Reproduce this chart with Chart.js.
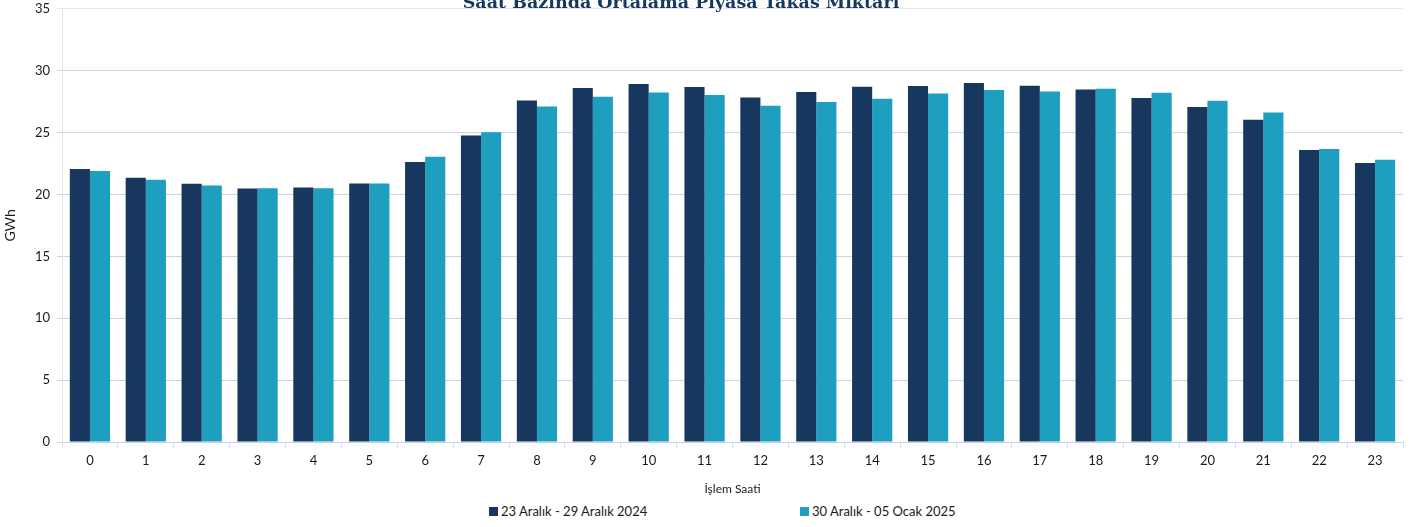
<!DOCTYPE html>
<html>
<head>
<meta charset="utf-8">
<script src="https://cdn.jsdelivr.net/npm/chart.js@4/dist/chart.umd.min.js"></script>
<style>
    body { margin: 0; background: #fff; overflow: hidden; }
    #wrap { position: relative; width: 1418px; height: 527px; overflow: hidden; }
    #chart { display: block; margin-top: -6px; }
    #legend {
        position: absolute; top: 503px; left: 0; width: 1418px;
        font: 13px Lato, "Open Sans", sans-serif; color: #1a1a1a;
    }
    .item { position: absolute; top: 0; white-space: nowrap; }
    .box { display: inline-block; width: 9px; height: 9px; margin-right: 3px; vertical-align: 0px; }
</style>
</head>
<body>
<div id="wrap">
    <canvas id="chart" width="1418" height="505"></canvas>
    <div id="legend"></div>
</div>
<script>
const hours = ['0','1','2','3','4','5','6','7','8','9','10','11','12','13','14','15','16','17','18','19','20','21','22','23'];

const week1 = [22.05, 21.35, 20.87, 20.49, 20.57, 20.89, 22.62, 24.76, 27.59, 28.60, 28.92, 28.68,
               27.84, 28.27, 28.70, 28.76, 29.00, 28.78, 28.49, 27.79, 27.06, 26.03, 23.60, 22.55];
const week2 = [21.89, 21.19, 20.73, 20.51, 20.51, 20.89, 23.05, 25.03, 27.11, 27.89, 28.24, 28.03,
               27.16, 27.46, 27.73, 28.16, 28.43, 28.32, 28.54, 28.22, 27.57, 26.62, 23.68, 22.80];

const seriesNames = ['23 Aralık - 29 Aralık 2024', '30 Aralık - 05 Ocak 2025'];
const seriesColors = ['#17375e', '#1f9fc0'];

const titleText = 'Saat Bazında Ortalama Piyasa Takas Miktarı';

// title sits partly above the visible top, like the original
const titlePlugin = {
    id: 'cutTitle',
    afterDraw(chart) {
        const ctx = chart.ctx;
        ctx.save();
        ctx.font = 'bold 17.5px "DejaVu Serif", "Liberation Serif", serif';
        ctx.fillStyle = '#17375e';
        ctx.textAlign = 'center';
        ctx.textBaseline = 'alphabetic';
        ctx.fillText(titleText, 681, 14);
        ctx.restore();
    }
};

const font = { family: 'Lato, "Open Sans", sans-serif', size: 13 };

new Chart(document.getElementById('chart'), {
    type: 'bar',
    data: {
        labels: hours,
        datasets: [
            { label: seriesNames[0], data: week1, backgroundColor: seriesColors[0] },
            { label: seriesNames[1], data: week2, backgroundColor: seriesColors[1] }
        ]
    },
    options: {
        responsive: false,
        animation: false,
        layout: { padding: { top: 0, right: 15, bottom: 3, left: 0 } },
        datasets: { bar: { categoryPercentage: 0.72, barPercentage: 1.0 } },
        plugins: {
            legend: { display: false },
            title: { display: false },
            tooltip: { enabled: false }
        },
        scales: {
            x: {
                grid: {
                    offset: true,
                    drawOnChartArea: false,
                    drawTicks: true,
                    tickLength: 6,
                    color: '#d9e1ec'
                },
                border: { color: '#c5d3e8' },
                ticks: { color: '#1a1a1a', font: font, padding: 5 },
                title: {
                    display: true,
                    text: 'İşlem Saati',
                    color: '#1a1a1a',
                    font: { family: font.family, size: 12 },
                    padding: { top: 8, bottom: 0 }
                }
            },
            y: {
                min: 0,
                max: 35,
                afterFit(scale) { scale.width = 62; },
                grid: {
                    color: ctx => ctx.tick && ctx.tick.value === 35 ? '#e3eaf4' : '#c6d5ea',
                    drawTicks: true,
                    tickLength: 5
                },
                border: { color: '#dfe7f2' },
                ticks: { stepSize: 5, color: '#1a1a1a', font: font, padding: 7 },
                title: {
                    display: true,
                    text: 'GWh',
                    color: '#1a1a1a',
                    font: { family: font.family, size: 14 },
                    padding: { top: 2, bottom: 0 }
                }
            }
        }
    },
    plugins: [titlePlugin]
});

// legend below the chart, spaced like the original
const legendEl = document.getElementById('legend');
const legendX = [489, 800];
seriesNames.forEach((name, i) => {
    legendEl.innerHTML += `<span class="item" style="left:${legendX[i]}px"><span class="box" style="background:${seriesColors[i]}"></span>${name}</span>`;
});
</script>
</body>
</html>
